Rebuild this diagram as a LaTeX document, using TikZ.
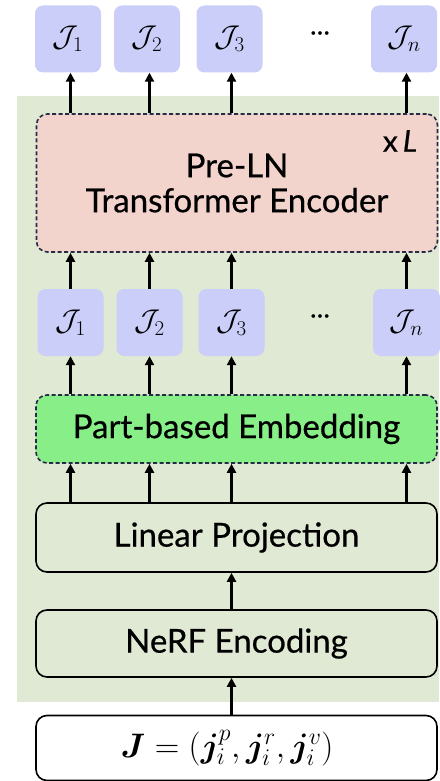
\RequirePackage{fix-cm}
\documentclass[tikz,border=0pt]{standalone}
\usepackage{amsmath}
\usepackage{bm}
\usepackage{fontspec}
\setmainfont{Lato}[FakeBold=0.6]
\usetikzlibrary{arrows.meta}

\definecolor{panelgreen}{HTML}{E0E9D3}
\definecolor{tokenblue}{HTML}{CACEF8}
\definecolor{encpink}{HTML}{F2D4CD}
\definecolor{embgreen}{HTML}{88EF88}
\definecolor{dashnavy}{HTML}{262C45}

\tikzset{
  token/.style={fill=tokenblue, rounded corners=8pt, minimum width=66pt, minimum height=67pt,
    inner sep=0pt, font=\fontsize{30}{36}\selectfont},
  stagebox/.style={draw=black, line width=1.6pt, rounded corners=11pt, minimum width=401pt,
    inner sep=0pt, font=\fontsize{33}{38}\selectfont, align=center},
  dashbox/.style={stagebox, draw=dashnavy, dash pattern=on 4pt off 2.5pt},
  arr/.style={line width=2.2pt, -{Triangle[length=9pt,width=9pt]}},
  dots/.style={font=\fontsize{26}{30}\selectfont}
}

\begin{document}
\begin{tikzpicture}[x=1pt,y=-1pt]
\useasboundingbox (0,0) rectangle (439,781);

% shaded panel behind the encoder stack
\fill[panelgreen] (17,96) rectangle (439,702);

% output tokens
\node[token] (tJ1) at (68,39) {$\mathcal{J}_1$};
\node[token] (tJ2) at (147,39) {$\mathcal{J}_2$};
\node[token] (tJ3) at (229.5,39) {$\mathcal{J}_3$};
\node[dots] (tdots) at (320,33) {…};
\node[token] (tJn) at (404,39) {$\mathcal{J}_n$};

% transformer encoder
\node[dashbox, fill=encpink, minimum height=138pt] (enc) at (237,183)
  {Pre-LN\\[-3pt]Transformer Encoder};
\node[font=\fontsize{30}{34}\selectfont, anchor=center] (rep) at (400,141) {x\,\textit{L}};

% embedded tokens
\node[token] (mJ1) at (70.5,322.5) {$\mathcal{J}_1$};
\node[token] (mJ2) at (149.5,322.5) {$\mathcal{J}_2$};
\node[token] (mJ3) at (231.5,322.5) {$\mathcal{J}_3$};
\node[dots] (mdots) at (320,316) {…};
\node[token, minimum width=67pt] (mJn) at (406.5,322.5) {$\mathcal{J}_n$};

% stages
\node[dashbox, fill=embgreen, minimum height=68pt] (emb) at (236.5,429) {Part-based Embedding};
\node[stagebox, fill=panelgreen, minimum height=69pt] (lin) at (236.5,537.5) {Linear Projection};
\node[stagebox, fill=panelgreen, minimum height=67pt] (nerf) at (236.5,643.5) {NeRF Encoding};
\node[stagebox, fill=white, minimum height=65pt, font=\fontsize{34}{40}\selectfont] (inp) at (236.5,748)
  {$\bm{J} = (\bm{j}_i^p, \bm{j}_i^r, \bm{j}_i^v)$\hspace*{19pt}};

% connectors
\foreach \i in {1,2,3,n} {
  \draw[arr] (enc.north -| mJ\i) -- (tJ\i.south -| mJ\i);
  \draw[arr] (mJ\i.north) -- (enc.south -| mJ\i);
  \draw[arr] (emb.north -| mJ\i) -- (mJ\i.south);
  \draw[arr] (lin.north -| mJ\i) -- (emb.south -| mJ\i);
}
\draw[arr] (nerf.north -| mJ3) -- (lin.south -| mJ3);
\draw[arr] (inp.north -| mJ3) -- (nerf.south -| mJ3);
\end{tikzpicture}
\end{document}
